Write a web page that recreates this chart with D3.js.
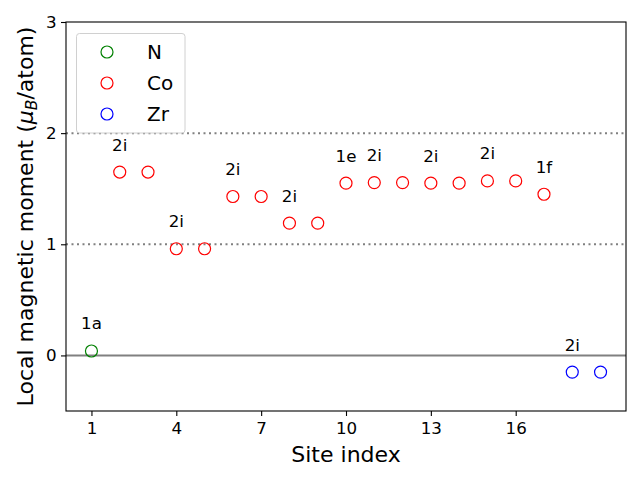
<!DOCTYPE html>
<html><head><meta charset="utf-8">
<script src="https://cdn.jsdelivr.net/npm/d3@7"></script>
<style>body{margin:0;background:#fff}svg{font-family:"DejaVu Sans",sans-serif}</style>
</head><body>
<svg id="c" width="640" height="480"></svg>
<script>
const siteIndex = [1,2,3,4,5,6,7,8,9,10,11,12,13,14,15,16,17,18,19];
const element = ["N","Co","Co","Co","Co","Co","Co","Co","Co","Co","Co","Co","Co","Co","Co","Co","Co","Zr","Zr"];
const moment = [0.04,1.65,1.65,0.96,0.96,1.43,1.43,1.19,1.19,1.55,1.555,1.555,1.55,1.55,1.57,1.57,1.45,-0.15,-0.15];
const wyckoffSites = [1,2,4,6,8,10,11,13,15,17,18];
const wyckoffLabels = ["1a","2i","2i","2i","2i","1e","2i","2i","2i","1f","2i"];
const legendNames = ["N","Co","Zr"];
const legendColors = ["green","red","blue"];
const xTicks = [1,4,7,10,13,16];
const yTicks = [0,1,2,3];
const refLines = [1,2];

const svg = d3.select("#c");
const L=66,R=626,T=22,B=411;
const x = d3.scaleLinear().domain([0.1,19.9]).range([L,R]);
const y = d3.scaleLinear().domain([-0.5,3]).range([B,T]);
const col = d3.scaleOrdinal().domain(legendNames).range(legendColors);

// reference lines
svg.selectAll("line.ref").data(refLines).join("line")
  .attr("x1",L).attr("x2",R).attr("y1",d=>y(d)).attr("y2",d=>y(d))
  .attr("stroke","#808080").attr("stroke-width",2).attr("stroke-dasharray","2,3.5");
svg.append("line").attr("x1",L).attr("x2",R).attr("y1",y(0)).attr("y2",y(0))
  .attr("stroke","#808080").attr("stroke-width",2);

// points
svg.selectAll("circle.pt").data(siteIndex).join("circle")
  .attr("cx",(d)=>x(d)).attr("cy",(d,i)=>y(moment[i])).attr("r",6)
  .attr("fill","none").attr("stroke",(d,i)=>col(element[i])).attr("stroke-width",1.2);

// annotations
svg.selectAll("text.ann").data(wyckoffSites).join("text")
  .attr("x",d=>x(d)).attr("y",(d,i)=>y(moment[siteIndex.indexOf(d)])-21.5)
  .attr("text-anchor","middle").style("font-size","16.7px").attr("fill","#000")
  .text((d,i)=>wyckoffLabels[i]);

// axes
const xa = svg.append("g").attr("transform",`translate(0,${B})`)
  .call(d3.axisBottom(x).tickValues(xTicks).tickFormat(d3.format("d")).tickSize(5).tickPadding(6.4));
const ya = svg.append("g").attr("transform",`translate(${L},0)`)
  .call(d3.axisLeft(y).tickValues(yTicks).tickFormat(d3.format("d")).tickSize(5).tickPadding(4.5));
[xa,ya].forEach(g=>{g.select(".domain").remove();
  g.attr("font-size",null).attr("font-family",null);
  g.selectAll("text").style("font-size","16.7px").style("font-family","DejaVu Sans").attr("fill","#000");
  g.selectAll("line").attr("stroke","#000").attr("stroke-width",1.1);});
svg.append("rect").attr("x",L).attr("y",T).attr("width",R-L).attr("height",B-T)
  .attr("fill","none").attr("stroke","#000").attr("stroke-width",1.1);

// axis labels
svg.append("text").attr("x",(L+R)/2).attr("y",462).attr("text-anchor","middle")
  .style("font-size","22px").text("Site index");
const yl = svg.append("text").attr("transform",`translate(33,${(T+B)/2}) rotate(-90)`)
  .attr("text-anchor","middle").style("font-size","22px");
yl.append("tspan").text("Local magnetic moment (");
yl.append("tspan").attr("font-style","italic").text("μ");
yl.append("tspan").attr("font-style","italic").style("font-size","15.5px").attr("dy",4).text("B");
yl.append("tspan").attr("dy",-4).text("/atom)");

// legend
const lg = svg.append("g");
lg.append("rect").attr("x",76.5).attr("y",33.5).attr("width",108.5).attr("height",99.5).attr("rx",3)
  .attr("fill","#fff").attr("fill-opacity",0.8).attr("stroke","#d0d0d0").attr("stroke-width",1);
legendNames.forEach((n,i)=>{
  lg.append("circle").attr("cx",107).attr("cy",52+i*31).attr("r",6)
    .attr("fill","none").attr("stroke",legendColors[i]).attr("stroke-width",1.2);
  lg.append("text").attr("x",147).attr("y",52+i*31+7).style("font-size","20px").text(n);
});
</script>
</body></html>
